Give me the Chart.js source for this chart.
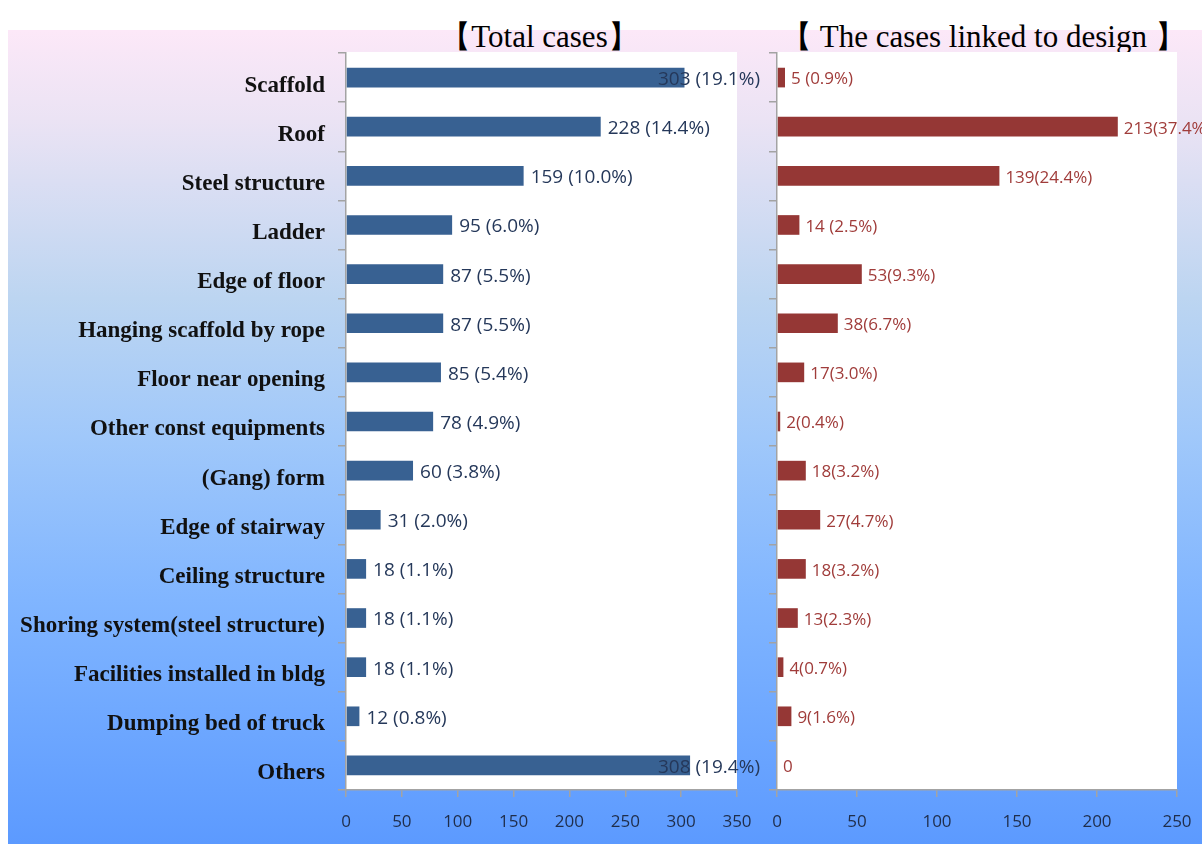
<!DOCTYPE html>
<html>
<head>
<meta charset="utf-8">
<script src="https://cdn.jsdelivr.net/npm/chart.js@4.4.1/dist/chart.umd.min.js"></script>
<style>
  html, body { margin: 0; padding: 0; background: #fff; }
  #page { position: relative; width: 1202px; height: 844px; overflow: hidden; }
  #bg {
    position: absolute; left: 8px; top: 30px; width: 1194px; height: 814px;
    background: linear-gradient(to bottom, #fce8f8 0%, #ebe3f4 11%, #bcd5f1 33%, #a0c8fa 50%, #80b5ff 70%, #5c9aff 100%);
  }
  canvas { position: absolute; top: 0; }
  .title {
    position: absolute; top: 19px; height: 36px; line-height: 36px;
    font-family: 'Liberation Serif', serif; font-size: 31px; color: #000;
    white-space: nowrap; text-align: center;
  }
</style>
</head>
<body>
<div id="page">
  <div id="bg"></div>
  <div class="title" style="left:344px; width:391px;">【Total cases】</div>
  <div class="title" style="left:781px; width:400px;">【 The cases linked to design 】</div>
  <canvas id="totalChart" width="770" height="844" style="left:0"></canvas>
  <canvas id="designChart" width="442" height="844" style="left:760px"></canvas>
</div>
<script>
// Data
const categories = [
    'Scaffold', 'Roof', 'Steel structure', 'Ladder', 'Edge of floor',
    'Hanging scaffold by rope', 'Floor near opening', 'Other const equipments',
    '(Gang) form', 'Edge of stairway', 'Ceiling structure',
    'Shoring system(steel structure)', 'Facilities installed in bldg',
    'Dumping bed of truck', 'Others'
];
const totalCases = [303, 228, 159, 95, 87, 87, 85, 78, 60, 31, 18, 18, 18, 12, 308];
const totalLabels = [
    '303 (19.1%)', '228 (14.4%)', '159 (10.0%)', '95 (6.0%)', '87 (5.5%)',
    '87 (5.5%)', '85 (5.4%)', '78 (4.9%)', '60 (3.8%)', '31 (2.0%)',
    '18 (1.1%)', '18 (1.1%)', '18 (1.1%)', '12 (0.8%)', '308 (19.4%)'
];
const designCases = [5, 213, 139, 14, 53, 38, 17, 2, 18, 27, 18, 13, 4, 9, 0];
const designLabels = [
    '5 (0.9%)', '213(37.4%)', '139(24.4%)', '14 (2.5%)', '53(9.3%)',
    '38(6.7%)', '17(3.0%)', '2(0.4%)', '18(3.2%)', '27(4.7%)',
    '18(3.2%)', '13(2.3%)', '4(0.7%)', '9(1.6%)', '0'
];
const totalMax = 350;
const designMax = 250;
const tickStep = 50;

const axisGray = '#a3a3a3';

// white plot area
const plotBg = {
    id: 'plotBg',
    beforeDraw(chart) {
        const a = chart.chartArea;
        const ctx = chart.ctx;
        ctx.save();
        ctx.fillStyle = '#fff';
        ctx.fillRect(a.left, a.top - 1, a.right - a.left, a.bottom - a.top + 1);
        ctx.restore();
    }
};

// value labels at the end of each bar
const barLabels = {
    id: 'barLabels',
    afterDatasetsDraw(chart, args, opts) {
        const ctx = chart.ctx;
        const meta = chart.getDatasetMeta(0);
        ctx.save();
        ctx.font = opts.font;
        ctx.fillStyle = opts.color;
        ctx.textBaseline = 'middle';
        meta.data.forEach((bar, i) => {
            const text = opts.texts[i];
            const w = ctx.measureText(text).width;
            let x = bar.x + opts.gap;
            if (opts.maxRight && x + w > opts.maxRight) x = opts.maxRight - w;
            ctx.fillText(text, x, bar.y + 2);
        });
        ctx.restore();
    }
};

function makeChart(id, values, color, max, opts) {
    return new Chart(document.getElementById(id), {
        type: 'bar',
        data: {
            labels: categories,
            datasets: [{
                data: values,
                backgroundColor: color,
                barPercentage: 0.4,
                categoryPercentage: 1
            }]
        },
        plugins: [plotBg, barLabels],
        options: {
            indexAxis: 'y',
            responsive: false,
            animation: false,
            layout: { padding: { top: 53, right: opts.padRight, bottom: 0, left: 0 } },
            plugins: {
                legend: { display: false },
                tooltip: { enabled: false },
                barLabels: opts.labels
            },
            scales: {
                x: {
                    min: 0,
                    max: max,
                    afterFit(s) {
                        s.height = 54;
                        s.paddingLeft = 0;
                        s.paddingRight = 0;
                    },
                    ticks: {
                        stepSize: tickStep,
                        padding: 15,
                        maxRotation: 0,
                        color: '#1f2d4a',
                        font: { family: 'Open Sans', size: 17 }
                    },
                    grid: { drawOnChartArea: false, tickLength: 7, color: axisGray, lineWidth: 1.5 },
                    border: { color: axisGray, width: 1.5 }
                },
                y: {
                    afterFit(s) {
                        s.width = opts.yWidth;
                        s.paddingTop = 0;
                        s.paddingBottom = 0;
                    },
                    ticks: {
                        display: opts.showNames,
                        padding: 13,
                        labelOffset: 8,
                        color: '#111',
                        font: { family: 'Liberation Serif', weight: 'bold', size: 23 }
                    },
                    grid: { drawOnChartArea: false, offset: true, tickLength: 8, color: axisGray, lineWidth: 1.5 },
                    border: { color: axisGray, width: 1.5 }
                }
            }
        }
    });
}

makeChart('totalChart', totalCases, '#386192', totalMax, {
    padRight: 33,
    yWidth: 346,
    showNames: true,
    labels: { texts: totalLabels, color: '#25385a', font: '19px "Open Sans"', gap: 7, maxRight: 760 }
});

makeChart('designChart', designCases, '#953735', designMax, {
    padRight: 25,
    yWidth: 17,
    showNames: false,
    labels: { texts: designLabels, color: '#a03c3a', font: '17px "Open Sans"', gap: 6, maxRight: 0 }
});
</script>
</body>
</html>
